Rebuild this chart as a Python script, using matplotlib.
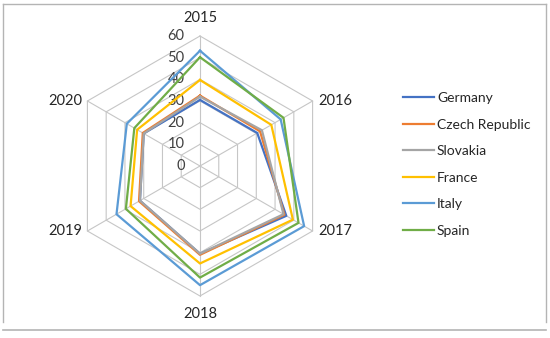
import numpy as np
import matplotlib.pyplot as plt
from matplotlib.lines import Line2D

plt.rcParams['font.family'] = ['Lato', 'DejaVu Sans']

years = ['2015', '2016', '2017', '2018', '2019', '2020']
countries = ['Germany', 'Czech Republic', 'Slovakia', 'France', 'Italy', 'Spain']
germany = [30.5, 30.5, 46, 40.5, 32, 30]
czech = [32.5, 32, 45, 41, 32.5, 30.5]
slovakia = [32, 33, 44.5, 40.5, 32, 30]
france = [39.7, 38, 49.5, 45, 37, 33.5]
italy = [53.2, 43, 55.5, 55, 44.5, 39]
spain = [50.2, 44.5, 52.5, 51.5, 39.5, 35]
ticks = [0, 10, 20, 30, 40, 50, 60]

colors = ['#4472C4', '#ED7D31', '#A5A5A5', '#FFC000', '#5B9BD5', '#70AD47']
series = [germany, czech, slovakia, france, italy, spain]

W, H = 550, 338
fig = plt.figure(figsize=(W / 100, H / 100), dpi=100)
ax = fig.add_axes([0, 0, 1, 1])
ax.set_axis_off()

# centre of the radar in pixels (from top-left) and pixels per unit
cx, cy = 200, 166
ppu = 130 / 60
ax.set_xlim(-cx / ppu, (W - cx) / ppu)
ax.set_ylim(-(H - cy) / ppu, cy / ppu)

ang = np.pi / 2 - np.arange(len(years)) * np.pi / 3


def to_xy(vals):
    v = np.append(vals, vals[0])
    a = np.append(ang, ang[0])
    return v * np.cos(a), v * np.sin(a)


grid_c = '#c6c6c6'
for t in ticks[1:]:
    gx, gy = to_xy([t] * len(years))
    ax.plot(gx, gy, color=grid_c, lw=0.8, zorder=1)
for a in ang:
    ax.plot([0, ticks[-1] * np.cos(a)], [0, ticks[-1] * np.sin(a)],
            color=grid_c, lw=0.8, zorder=1)

# radial tick labels
for t in ticks:
    ax.annotate(str(t), (0, t), xytext=(-11, 0), textcoords='offset points',
                ha='right', va='center', fontsize=10.5, color='#404040')

# category labels
rmax = ticks[-1]
for yr, a in zip(years, ang):
    px, py = rmax * np.cos(a), rmax * np.sin(a)
    c = np.cos(a)
    if abs(c) < 0.1:
        off = (0, 8 if np.sin(a) > 0 else -8)
        ha = 'center'
        va = 'bottom' if np.sin(a) > 0 else 'top'
    else:
        off = (4 if c > 0 else -4, 0)
        ha = 'left' if c > 0 else 'right'
        va = 'center'
    ax.annotate(yr, (px, py), xytext=off, textcoords='offset points',
                ha=ha, va=va, fontsize=10.5, color='#262626')

for name, vals, col in zip(countries, series, colors):
    sx, sy = to_xy(vals)
    ax.plot(sx, sy, color=col, lw=1.6, label=name, zorder=3)

fig.legend(loc='upper left', bbox_to_anchor=(403 / W, 1 - 92 / H),
           frameon=False, fontsize=10, handlelength=2.2, handletextpad=0.25,
           labelspacing=1.05, borderpad=0, borderaxespad=0,
           labelcolor='#262626')

# chart border
bc = '#b4b4b4'
fig.add_artist(Line2D([3 / W, 546 / W], [1 - 4 / H, 1 - 4 / H], color=bc, lw=1))
fig.add_artist(Line2D([3 / W, 3 / W], [1 - 4 / H, 1 - 322 / H], color=bc, lw=1))
fig.add_artist(Line2D([546 / W, 546 / W], [1 - 4 / H, 1 - 322 / H], color=bc, lw=1))
fig.add_artist(Line2D([3 / W, 546 / W], [1 - 330 / H, 1 - 330 / H], color=bc, lw=1.2))

fig.savefig('out.png', dpi=100)
